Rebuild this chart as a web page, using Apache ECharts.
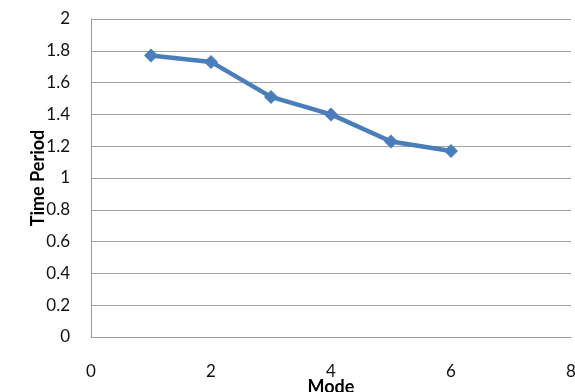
<!DOCTYPE html>
<html><head><meta charset="utf-8">
<script src="https://cdn.jsdelivr.net/npm/echarts@6/dist/echarts.min.js"></script>
<style>html,body{margin:0;padding:0;background:#fff}#c{width:575px;height:392px}</style>
</head><body><div id="c"></div>
<script>
const modes = [1, 2, 3, 4, 5, 6];
const timePeriod = [1.77, 1.73, 1.51, 1.40, 1.23, 1.17];
const xTicks = [0, 2, 4, 6, 8];
const yTicks = [0, 0.2, 0.4, 0.6, 0.8, 1, 1.2, 1.4, 1.6, 1.8, 2];

const font = 'Lato, "Open Sans", sans-serif';
const chart = echarts.init(document.getElementById('c'), null, {renderer: 'canvas'});
chart.setOption({
  animation: false,
  grid: {left: 91, top: 19, right: 4, bottom: 55, containLabel: false, outerBoundsMode: 'none'},
  xAxis: {
    type: 'value', min: xTicks[0], max: xTicks[xTicks.length - 1], interval: 2,
    name: 'Mode', nameLocation: 'middle', nameGap: 41, nameMoveOverlap: false,
    nameTextStyle: {fontFamily: font, fontWeight: 'bold', fontSize: 18, color: '#000'},
    axisLine: {show: true, lineStyle: {color: '#9a9a9a', width: 1}},
    axisTick: {show: false},
    splitLine: {show: false},
    axisLabel: {fontFamily: font, fontSize: 17, color: '#111', margin: 26}
  },
  yAxis: {
    type: 'value', min: yTicks[0], max: yTicks[yTicks.length - 1], interval: 0.2,
    name: 'Time Period', nameLocation: 'middle', nameGap: 44, nameRotate: 90, nameMoveOverlap: false,
    nameTextStyle: {fontFamily: font, fontWeight: 'bold', fontSize: 18, color: '#000'},
    axisLine: {show: true, lineStyle: {color: '#9a9a9a', width: 1}},
    axisTick: {show: false},
    splitLine: {show: true, lineStyle: {color: '#a0a0a0', width: 1}},
    axisLabel: {fontFamily: font, fontSize: 17, color: '#111', margin: 21,
      formatter: v => String(Math.round(v * 10) / 10)}
  },
  series: [{
    type: 'line',
    data: modes.map((m, i) => [m, timePeriod[i]]),
    symbol: 'diamond', symbolSize: 14,
    lineStyle: {color: '#4a7ebb', width: 4.5},
    itemStyle: {color: '#4a7ebb'}
  }]
});
</script></body></html>
